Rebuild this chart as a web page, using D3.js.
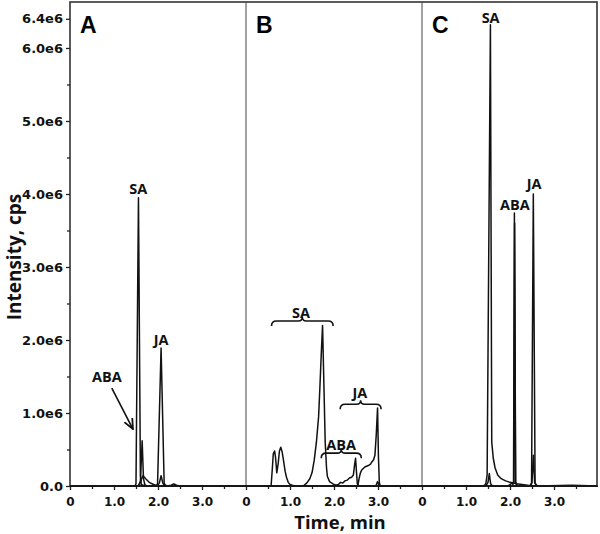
<!DOCTYPE html>
<html>
<head>
<meta charset="utf-8">
<script src="https://cdn.jsdelivr.net/npm/d3@7/dist/d3.min.js"></script>
<style>
  html, body { margin: 0; padding: 0; background: #fff; }
  svg { display: block; }
</style>
</head>
<body>
<svg id="chart" width="600" height="534"></svg>
<script>
// ---------------- DATA (time in min, intensity in units of 1e6 cps) ----------------
const panelNames = ["A", "B", "C"];

const yTickValues = [0, 1, 2, 3, 4, 5, 6, 6.4];
const yTickLabels = ["0.0", "1.0e6", "2.0e6", "3.0e6", "4.0e6", "5.0e6", "6.0e6", "6.4e6"];
const yMinorTicks = [0.5, 1.5, 2.5, 3.5, 4.5, 5.5];

const xTickValues = [0, 1, 2, 3];
const xTickLabels = ["0", "1.0", "2.0", "3.0"];
const xMinorTicks = [0.5, 1.5, 2.5, 3.5];

// Panel A
const traceA_SA  = [[0,0],[1.48,0],[1.5,0.03],[1.556,3.95],[1.6,0.15],[1.62,0.02],[1.7,0],[4,0]];
const traceA_ABA = [[0,0],[1.56,0],[1.6,0.06],[1.64,0.62],[1.67,0.1],[1.7,0.02],[1.75,0],[4,0]];
const traceA_ABA2 = [[1.55,0],[1.6,0.06],[1.66,0.14],[1.72,0.1],[1.8,0.05],[1.9,0.02],[2.0,0]];
const traceA_JA  = [[0,0],[1.96,0],[1.99,0.03],[2.07,1.89],[2.14,0.03],[2.2,0],[2.3,0.01],[2.36,0.03],[2.42,0.01],[2.5,0],[4,0]];
const traceA_JA2 = [[1.98,0],[2.03,0.04],[2.07,0.14],[2.11,0.04],[2.15,0]];

// Panel B
const traceB_SA = [[0,0],[0.57,0],[0.6,0.25],[0.62,0.44],[0.65,0.48],[0.67,0.4],[0.7,0.18],[0.73,0.3],
  [0.76,0.48],[0.79,0.53],[0.82,0.47],[0.85,0.36],[0.89,0.2],[0.92,0.12],[0.96,0.05],[1.0,0.02],[1.1,0],
  [1.3,0],[1.38,0.04],[1.45,0.1],[1.5,0.18],[1.55,0.35],[1.6,0.6],[1.65,0.95],[1.68,1.36],[1.71,1.8],
  [1.74,2.2],[1.77,1.4],[1.8,0.6],[1.83,0.25],[1.85,0.13],[1.9,0.06],[2.0,0.02],[2.1,0],[4,0]];
const traceB_ABA = [[0,0],[2.0,0],[2.1,0.02],[2.15,0.05],[2.2,0.04],[2.25,0.07],[2.3,0.08],[2.35,0.11],
  [2.4,0.12],[2.44,0.15],[2.47,0.3],[2.49,0.38],[2.51,0.2],[2.53,0.03],[2.56,0],[4,0]];
const traceB_JA = [[0,0],[2.54,0],[2.57,0.1],[2.6,0.18],[2.63,0.22],[2.7,0.26],[2.78,0.28],[2.83,0.3],
  [2.86,0.33],[2.9,0.36],[2.93,0.42],[2.96,0.7],[2.99,1.07],[3.01,0.4],[3.03,0.05],[3.05,0],[4,0]];
const traceB_JA2 = [[2.95,0],[2.99,0.06],[3.03,0]];

// Panel C
const traceC_SA  = [[0,0],[1.4,0],[1.45,0.03],[1.48,0.15],[1.555,6.32],[1.585,0.6],[1.62,0.38],[1.66,0.25],
  [1.72,0.15],[1.8,0.1],[1.9,0.07],[2.0,0.05],[2.15,0.03],[2.4,0.01],[2.6,0],[4,0]];
const traceC_SA2 = [[1.45,0],[1.5,0.05],[1.53,0.17],[1.56,0.03],[1.6,0]];
const traceC_ABA = [[0,0],[1.95,0],[2.02,0.03],[2.08,0.05],[2.1,3.74],[2.13,0.05],[2.17,0],[4,0]];
const traceC_ABA2 = [[2.05,0],[2.085,0.05],[2.105,3.6],[2.125,0.05],[2.16,0]];
const traceC_JA  = [[0,0],[2.45,0],[2.49,0.04],[2.53,4.0],[2.57,0.04],[2.62,0],[3.4,0.01],[4,0]];
const traceC_JA2 = [[2.47,0],[2.5,0.05],[2.53,0.42],[2.56,0.05],[2.6,0]];

const panelTraces = [
  [traceA_SA, traceA_ABA, traceA_ABA2, traceA_JA, traceA_JA2],
  [traceB_SA, traceB_ABA, traceB_JA, traceB_JA2],
  [traceC_SA, traceC_SA2, traceC_ABA, traceC_ABA2, traceC_JA, traceC_JA2]
];

// peak labels: [panel, text, time, intensity(baseline)]
const peakLabels = [
  [0, "SA", 1.55, 4.0], [0, "JA", 2.07, 1.93], [0, "ABA", 0.84, 1.42],
  [1, "SA", 1.25, 2.3], [1, "ABA", 2.16, 0.49], [1, "JA", 2.59, 1.2],
  [2, "SA", 1.56, 6.34], [2, "ABA", 2.11, 3.78], [2, "JA", 2.55, 4.07]
];
// braces in panel B: [time start, time end, intensity]
const bracesB = [[0.58, 1.98, 2.26], [1.71, 2.62, 0.45], [2.14, 3.07, 1.12]];
// arrow in panel A: [t0, v0, t1, v1]
const arrowA = [0.95, 1.34, 1.43, 0.78];

// ---------------- LAYOUT ----------------
const svg = d3.select("#chart");
const plotLeft = 70, plotTop = 2, plotBottom = 486, panelW = 176;

const yScale = d3.scaleLinear().domain([0, 6.63]).range([plotBottom, plotTop]);
const xs = panelNames.map((_, i) => d3.scaleLinear().domain([0, 4]).range([plotLeft + panelW * i, plotLeft + panelW * (i + 1)]));

const tickFont = "'DejaVu Sans', Verdana, sans-serif";
const labelFont = "'Open Sans', Arial, sans-serif";

// clip paths
const defs = svg.append("defs");
xs.forEach((x, i) => {
  defs.append("clipPath").attr("id", "clip" + i).append("rect")
    .attr("x", x.range()[0]).attr("y", plotTop).attr("width", panelW).attr("height", plotBottom - plotTop + 1);
});
defs.append("marker").attr("id", "arrowhead").attr("viewBox", "0 0 10 10").attr("refX", 9).attr("refY", 5)
  .attr("markerWidth", 7).attr("markerHeight", 7).attr("orient", "auto-start-reverse")
  .append("path").attr("d", "M0,1 L9,5 L0,9").attr("fill", "none").attr("stroke", "#111").attr("stroke-width", 1.6);

// traces
panelTraces.forEach((traces, i) => {
  const line = d3.line().x(d => xs[i](d[0])).y(d => yScale(d[1])).curve(d3.curveLinear);
  const g = svg.append("g").attr("clip-path", `url(#clip${i})`);
  traces.forEach(tr => {
    g.append("path").attr("d", line(tr)).attr("fill", "none")
      .attr("stroke", "#111").attr("stroke-width", 1.5).attr("stroke-linejoin", "round");
  });
});

// frame and dividers
svg.append("rect").attr("x", plotLeft).attr("y", plotTop).attr("width", panelW * 3 - 1).attr("height", plotBottom - plotTop)
  .attr("fill", "none").attr("stroke", "#333").attr("stroke-width", 1.6);
[1, 2].forEach(i => {
  svg.append("line").attr("x1", xs[i](0)).attr("x2", xs[i](0)).attr("y1", plotTop).attr("y2", plotBottom)
    .attr("stroke", "#444").attr("stroke-width", 1);
});

// y axis
const yAxis = svg.append("g").attr("transform", `translate(${plotLeft},0)`)
  .call(d3.axisLeft(yScale).tickValues(yTickValues).tickFormat((d, i) => yTickLabels[i]).tickSize(4).tickPadding(3));
const yMinor = svg.append("g").attr("transform", `translate(${plotLeft},0)`)
  .call(d3.axisLeft(yScale).tickValues(yMinorTicks).tickFormat("").tickSize(3));
[yAxis, yMinor].forEach(g => {
  g.select(".domain").remove();
  g.selectAll("line").attr("stroke", "#222").attr("stroke-width", 1.3);
});
yAxis.selectAll("text").attr("font-family", tickFont).attr("font-weight", "bold")
  .attr("font-size", 13).attr("fill", "#111");

// x axes
xs.forEach((x, i) => {
  const g = svg.append("g").attr("transform", `translate(0,${plotBottom})`)
    .call(d3.axisBottom(x).tickValues(xTickValues).tickFormat((d, k) => xTickLabels[k]).tickSize(4).tickPadding(7));
  const gm = svg.append("g").attr("transform", `translate(0,${plotBottom})`)
    .call(d3.axisBottom(x).tickValues(xMinorTicks).tickFormat("").tickSize(3));
  [g, gm].forEach(a => {
    a.select(".domain").remove();
    a.selectAll("line").attr("stroke", "#222").attr("stroke-width", 1.3);
  });
  g.selectAll("text").attr("font-family", tickFont).attr("font-weight", "bold")
    .attr("font-size", 12).attr("fill", "#111");
});
// x axis line
svg.append("line").attr("x1", plotLeft).attr("x2", plotLeft + panelW * 3 - 1).attr("y1", plotBottom).attr("y2", plotBottom)
  .attr("stroke", "#111").attr("stroke-width", 1.6);

// panel letters
panelNames.forEach((p, i) => {
  svg.append("text").attr("x", xs[i](0) + 10).attr("y", 33).text(p)
    .attr("font-family", "'Liberation Sans', Arial, sans-serif").attr("font-weight", "bold")
    .attr("font-size", 23).attr("fill", "#000");
});

// peak labels
peakLabels.forEach(([pi, txt, t, v]) => {
  svg.append("text").attr("x", xs[pi](t)).attr("y", yScale(v)).text(txt)
    .attr("text-anchor", "middle").attr("font-family", labelFont).attr("font-weight", "bold")
    .attr("font-size", 14.5).attr("fill", "#111");
});

// braces (panel B)
bracesB.forEach(([t0, t1, v]) => {
  const x0 = xs[1](t0), x1 = xs[1](t1), xm = (x0 + x1) / 2, yy = yScale(v);
  const d = `M${x0},${yy + 5} Q${x0},${yy} ${x0 + 5},${yy} L${xm - 4},${yy} Q${xm},${yy} ${xm},${yy - 4} ` +
            `Q${xm},${yy} ${xm + 4},${yy} L${x1 - 5},${yy} Q${x1},${yy} ${x1},${yy + 5}`;
  svg.append("path").attr("d", d).attr("fill", "none").attr("stroke", "#111").attr("stroke-width", 1.6);
});

// arrow (panel A)
svg.append("line").attr("x1", xs[0](arrowA[0])).attr("y1", yScale(arrowA[1]))
  .attr("x2", xs[0](arrowA[2])).attr("y2", yScale(arrowA[3]))
  .attr("stroke", "#111").attr("stroke-width", 1.6).attr("marker-end", "url(#arrowhead)");

// axis titles
svg.append("text").attr("transform", `translate(21,257) rotate(-90)`).attr("text-anchor", "middle")
  .text("Intensity, cps").attr("font-family", labelFont).attr("font-weight", "bold")
  .attr("font-size", 19).attr("fill", "#111");
svg.append("text").attr("x", 340).attr("y", 529).attr("text-anchor", "middle")
  .text("Time, min").attr("font-family", labelFont).attr("font-weight", "bold")
  .attr("font-size", 18.5).attr("fill", "#111");
</script>
</body>
</html>
